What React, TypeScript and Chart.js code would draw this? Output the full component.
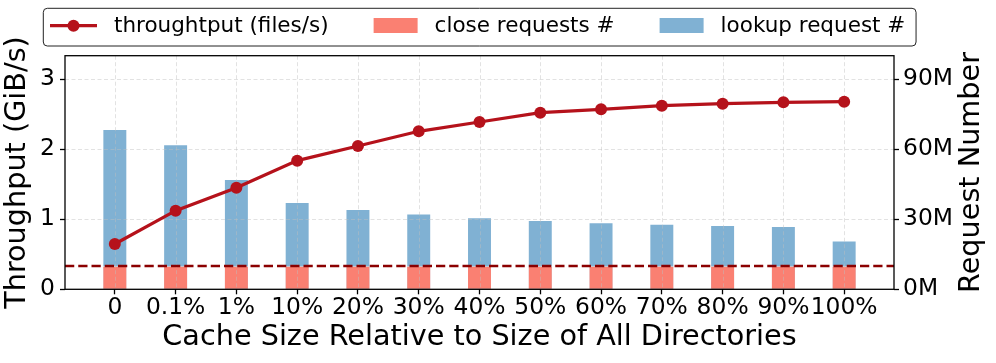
import React, { useEffect, useRef } from 'react';
import { Chart, registerables } from 'chart.js';

Chart.register(...registerables);

// ---------------- data ----------------
const categories = ['0', '0.1%', '1%', '10%', '20%', '30%', '40%', '50%', '60%', '70%', '80%', '90%', '100%'];
const throughput = [0.647, 1.123, 1.452, 1.838, 2.047, 2.257, 2.39, 2.523, 2.571, 2.623, 2.652, 2.671, 2.68]; // GiB/s
const lookupRequests = [68.6, 62.0, 47.1, 37.3, 34.3, 32.3, 30.7, 29.6, 28.6, 27.9, 27.4, 27.0, 20.8]; // millions
const closeRequests = [10, 10, 10, 10, 10, 10, 10, 10, 10, 10, 10, 10, 10]; // millions
const leftTicks = [0, 1, 2, 3];
const rightTicks = [0, 30, 60, 90]; // millions
const baselineThroughput = 0.333; // dashed reference line (GiB/s)

const leftMax = 3.337;
const rightMax = 100.1;
const xMin = -0.82;
const xMax = 12.82;

const FONT = "'DejaVu Sans', sans-serif";
const LINE_COLOR = '#b5121b';
const CLOSE_COLOR = '#fa8072';
const LOOKUP_COLOR = '#80b1d3';
const REF_COLOR = '#8b0000';

const TICK_SIZE = 23.4;
const TITLE_SIZE = 28.7;
const LEGEND_SIZE = 21.5;

const gridAndRefPlugin = {
  id: 'gridAndRef',
  afterDatasetDraw(chart: any, args: any) {
    if (args.index !== 1) return;
    const { ctx, chartArea: ca, scales } = chart;
    ctx.save();
    ctx.beginPath();
    ctx.rect(ca.left, ca.top, ca.right - ca.left, ca.bottom - ca.top);
    ctx.clip();
    ctx.strokeStyle = 'rgba(190,190,190,0.45)';
    ctx.lineWidth = 1;
    ctx.setLineDash([4, 2.5]);
    categories.forEach((_, i) => {
      const x = Math.round(scales.x.getPixelForValue(i)) + 0.5;
      ctx.beginPath();
      ctx.moveTo(x, ca.top);
      ctx.lineTo(x, ca.bottom);
      ctx.stroke();
    });
    leftTicks.forEach((v) => {
      const y = Math.round(scales.y.getPixelForValue(v)) + 0.5;
      ctx.beginPath();
      ctx.moveTo(ca.left, y);
      ctx.lineTo(ca.right, y);
      ctx.stroke();
    });
    // dashed reference line
    const yr = scales.y.getPixelForValue(baselineThroughput);
    ctx.strokeStyle = REF_COLOR;
    ctx.lineWidth = 2.5;
    ctx.setLineDash([9.25, 4]);
    ctx.beginPath();
    ctx.moveTo(ca.left, yr);
    ctx.lineTo(ca.right, yr);
    ctx.stroke();
    ctx.restore();
  },
};

const decorPlugin = {
  id: 'decor',
  afterDraw(chart: any) {
    const { ctx, chartArea: ca } = chart;
    ctx.save();
    // frame
    ctx.strokeStyle = '#000';
    ctx.lineWidth = 1.3;
    ctx.setLineDash([]);
    ctx.strokeRect(ca.left, ca.top, ca.right - ca.left, ca.bottom - ca.top);

    // right axis title (rotated like matplotlib: reads bottom-to-top)
    ctx.save();
    ctx.translate(972, (ca.top + ca.bottom) / 2);
    ctx.rotate(-Math.PI / 2);
    ctx.font = `${TITLE_SIZE}px ${FONT}`;
    ctx.fillStyle = '#000';
    ctx.textAlign = 'center';
    ctx.textBaseline = 'middle';
    ctx.fillText('Request Number', 0, 0);
    ctx.restore();

    // legend
    const ds = chart.data.datasets;
    const items = [ds[0], ds[1], ds[2]];
    ctx.font = `${LEGEND_SIZE}px ${FONT}`;
    const yMid = 25.7;
    let x = ca.left - 15;
    const boxLeft = x - 6.7;
    let lastEnd = x;
    const drawn: any[] = [];
    items.forEach((d: any, i: number) => {
      const tw = ctx.measureText(d.label).width;
      drawn.push({ d, x, tw, i });
      lastEnd = x + 64 + tw;
      x = lastEnd + 42;
    });
    const boxRight = lastEnd + 10.7;
    // box
    const bx = boxLeft, by = 8.3, bw = boxRight - boxLeft, bh = 46 - 8.3, r = 4;
    ctx.fillStyle = 'rgba(255,255,255,0.8)';
    ctx.strokeStyle = '#222';
    ctx.lineWidth = 1;
    ctx.beginPath();
    ctx.moveTo(bx + r, by);
    ctx.lineTo(bx + bw - r, by);
    ctx.arcTo(bx + bw, by, bx + bw, by + r, r);
    ctx.lineTo(bx + bw, by + bh - r);
    ctx.arcTo(bx + bw, by + bh, bx + bw - r, by + bh, r);
    ctx.lineTo(bx + r, by + bh);
    ctx.arcTo(bx, by + bh, bx, by + bh - r, r);
    ctx.lineTo(bx, by + r);
    ctx.arcTo(bx, by, bx + r, by, r);
    ctx.closePath();
    ctx.fill();
    ctx.stroke();

    drawn.forEach(({ d, x: ix, i }) => {
      if (i === 0) {
        ctx.strokeStyle = d.borderColor;
        ctx.lineWidth = 3.2;
        ctx.beginPath();
        ctx.moveTo(ix, yMid);
        ctx.lineTo(ix + 47, yMid);
        ctx.stroke();
        ctx.fillStyle = d.borderColor;
        ctx.beginPath();
        ctx.arc(ix + 23.5, yMid, 6, 0, Math.PI * 2);
        ctx.fill();
      } else {
        ctx.fillStyle = d.backgroundColor;
        ctx.fillRect(ix + 3, 18, 44, 15);
      }
      ctx.fillStyle = '#000';
      ctx.textAlign = 'left';
      ctx.textBaseline = 'middle';
      ctx.fillText(d.label, ix + 64, 26.3);
    });
    ctx.restore();
  },
};

export default function App() {
  const canvasRef = useRef<HTMLCanvasElement | null>(null);

  useEffect(() => {
    if (!canvasRef.current) return;
    Chart.defaults.font.family = FONT;
    Chart.defaults.color = '#000';

    const chart = new Chart(canvasRef.current, {
      type: 'bar',
      data: {
        datasets: [
          {
            type: 'line',
            label: 'throughtput (files/s)',
            data: throughput.map((v, i) => ({ x: i, y: v })),
            yAxisID: 'y',
            borderColor: LINE_COLOR,
            backgroundColor: LINE_COLOR,
            borderWidth: 3.2,
            pointRadius: 6,
            pointBorderWidth: 0,
            pointBackgroundColor: LINE_COLOR,
            tension: 0,
            order: 0,
          } as any,
          {
            type: 'bar',
            label: 'close requests #',
            data: closeRequests.map((v, i) => ({ x: i, y: v })),
            yAxisID: 'y2',
            backgroundColor: CLOSE_COLOR,
            borderColor: 'rgba(255,255,255,0.5)',
            borderWidth: 1,
            barThickness: 24.3,
            grouped: false,
            order: 1,
          } as any,
          {
            type: 'bar',
            label: 'lookup request #',
            data: lookupRequests.map((v, i) => ({ x: i, y: v })),
            yAxisID: 'y2',
            backgroundColor: LOOKUP_COLOR,
            borderColor: 'rgba(255,255,255,0.5)',
            borderWidth: 1,
            barThickness: 24.3,
            grouped: false,
            order: 2,
          } as any,
        ],
      },
      options: {
        responsive: false,
        animation: false,
        events: [],
        layout: { padding: { top: 55.7, left: 0, right: 0, bottom: 0 } },
        plugins: {
          legend: { display: false },
          tooltip: { enabled: false },
        },
        scales: {
          x: {
            type: 'linear',
            min: xMin,
            max: xMax,
            offset: false,
            afterBuildTicks: (s: any) => {
              s.ticks = categories.map((_, i) => ({ value: i }));
            },
            afterFit: (s: any) => {
              s.height = 73.7;
            },
            ticks: {
              autoSkip: false,
              maxRotation: 0,
              padding: 0,
              font: { size: TICK_SIZE },
              color: '#000',
              callback: (v: any) => categories[Math.round(v)] ?? '',
            },
            grid: {
              offset: false,
              color: 'rgba(0,0,0,0)',
              tickColor: '#000',
              tickLength: 5,
              tickWidth: 1.3,
              drawTicks: true,
            },
            border: { display: false },
            title: {
              display: true,
              text: 'Cache Size Relative to Size of All Directories',
              font: { size: TITLE_SIZE },
              color: '#000',
              padding: { top: 0, bottom: 8.2 },
            },
          },
          y: {
            type: 'linear',
            position: 'left',
            min: 0,
            max: leftMax,
            afterBuildTicks: (s: any) => {
              s.ticks = leftTicks.map((v) => ({ value: v }));
            },
            afterFit: (s: any) => {
              s.width = 65;
            },
            ticks: {
              padding: 5,
              font: { size: TICK_SIZE },
              color: '#000',
              callback: (v: any) => String(v),
            },
            grid: {
              color: 'rgba(0,0,0,0)',
              tickColor: '#000',
              tickLength: 5,
              tickWidth: 1.3,
            },
            border: { display: false },
            title: {
              display: true,
              text: 'Throughput (GiB/s)',
              font: { size: TITLE_SIZE },
              color: '#000',
              padding: { top: 0.7, bottom: 0 },
            },
          },
          y2: {
            type: 'linear',
            position: 'right',
            min: 0,
            max: rightMax,
            afterBuildTicks: (s: any) => {
              s.ticks = rightTicks.map((v) => ({ value: v }));
            },
            afterFit: (s: any) => {
              s.width = 102;
            },
            ticks: {
              padding: 4,
              font: { size: TICK_SIZE },
              color: '#000',
              callback: (v: any) => `${v}M`,
            },
            grid: {
              display: true,
              drawOnChartArea: false,
              color: 'rgba(0,0,0,0)',
              tickColor: '#000',
              tickLength: 5,
              tickWidth: 1.3,
            },
            border: { display: false },
            title: { display: false },
          },
        },
      } as any,
      plugins: [gridAndRefPlugin, decorPlugin],
    });

    return () => chart.destroy();
  }, []);

  return (
    <div style={{ position: 'absolute', left: 0, top: 0, width: 996, height: 363, background: '#fff' }}>
      <canvas ref={canvasRef} width={996} height={363} style={{ width: 996, height: 363, display: 'block' }} />
    </div>
  );
}
